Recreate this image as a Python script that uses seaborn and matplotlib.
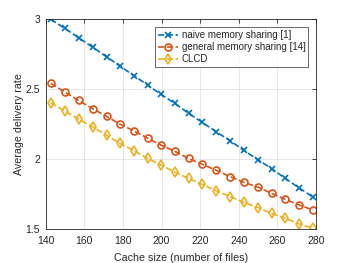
import pandas as pd
import seaborn as sns
import matplotlib.pyplot as plt

# cache size at each marker
cache_size = [142.6, 149.8, 157.0, 164.4, 171.5, 178.4, 185.8, 192.8, 199.7, 206.8,
              214.0, 221.1, 228.3, 235.7, 242.6, 250.2, 257.0, 264.1, 271.4, 278.4]
naive = [3.0, 2.936, 2.869, 2.80, 2.733, 2.666, 2.597, 2.531, 2.464, 2.40,
         2.329, 2.264, 2.197, 2.131, 2.064, 1.995, 1.934, 1.864, 1.795, 1.731]
general = [2.543, 2.481, 2.421, 2.361, 2.307, 2.252, 2.202, 2.151, 2.102, 2.058,
           2.006, 1.965, 1.922, 1.876, 1.836, 1.80, 1.757, 1.714, 1.674, 1.638]
clcd = [2.404, 2.345, 2.288, 2.231, 2.172, 2.114, 2.061, 2.007, 1.959, 1.909,
        1.864, 1.821, 1.776, 1.733, 1.693, 1.654, 1.614, 1.579, 1.538, 1.507]

labels = ["naive memory sharing [1]", "general memory sharing [14]", "CLCD"]
colors = ["#0072BD", "#D95319", "#EDB120"]
markers = ["x", "o", "d"]

sns.set_style("white")
plt.rcParams['font.family'] = ['Liberation Sans', 'DejaVu Sans']
plt.rcParams['text.color'] = '#262626'

fig = plt.figure(figsize=(3.5, 2.63), dpi=100)
ax = fig.add_axes([0.1306, 0.128, 0.772, 0.7986])

for vals, lab, col, mk in zip([naive, general, clcd], labels, colors, markers):
    df = pd.DataFrame({"x": cache_size, "y": vals})
    sns.lineplot(data=df, x="x", y="y", ax=ax, color=col, label=lab,
                 linestyle="--", linewidth=1.2, marker=mk,
                 markersize=5 if mk != "x" else 4.5,
                 markerfacecolor="none" if mk != "x" else col,
                 markeredgecolor=col, markeredgewidth=1.2,
                 dashes=(3, 2))

ax.set_xlim(140, 280)
ax.set_ylim(1.5, 3)
ax.set_xticks([140, 160, 180, 200, 220, 240, 260, 280])
ax.set_yticks([1.5, 2, 2.5, 3])
ax.set_yticklabels(["1.5", "2", "2.5", "3"])
ax.grid(True, color="#e3e3e3", linewidth=0.6)
ax.tick_params(direction="in", length=3, width=0.6, labelsize=7.5,
               colors="#262626", top=True, right=True)
ax.tick_params(axis="x", pad=5)
ax.tick_params(axis="y", pad=4)
for s in ax.spines.values():
    s.set_color("#262626")
    s.set_linewidth(0.6)
ax.set_xlabel("Cache size (number of files)", fontsize=7.7, color="#262626",
              labelpad=5)
ax.set_ylabel("Average delivery rate", fontsize=7.7, color="#262626",
              labelpad=1)

leg = ax.legend(loc="upper right", bbox_to_anchor=(0.972, 0.962), fontsize=7,
                frameon=True, fancybox=False, handlelength=2.0,
                handletextpad=0.4, borderpad=0.3, labelspacing=0.2,
                borderaxespad=0)
leg.get_frame().set_edgecolor("#262626")
leg.get_frame().set_linewidth(0.6)

fig.savefig("out.png", dpi=100)
